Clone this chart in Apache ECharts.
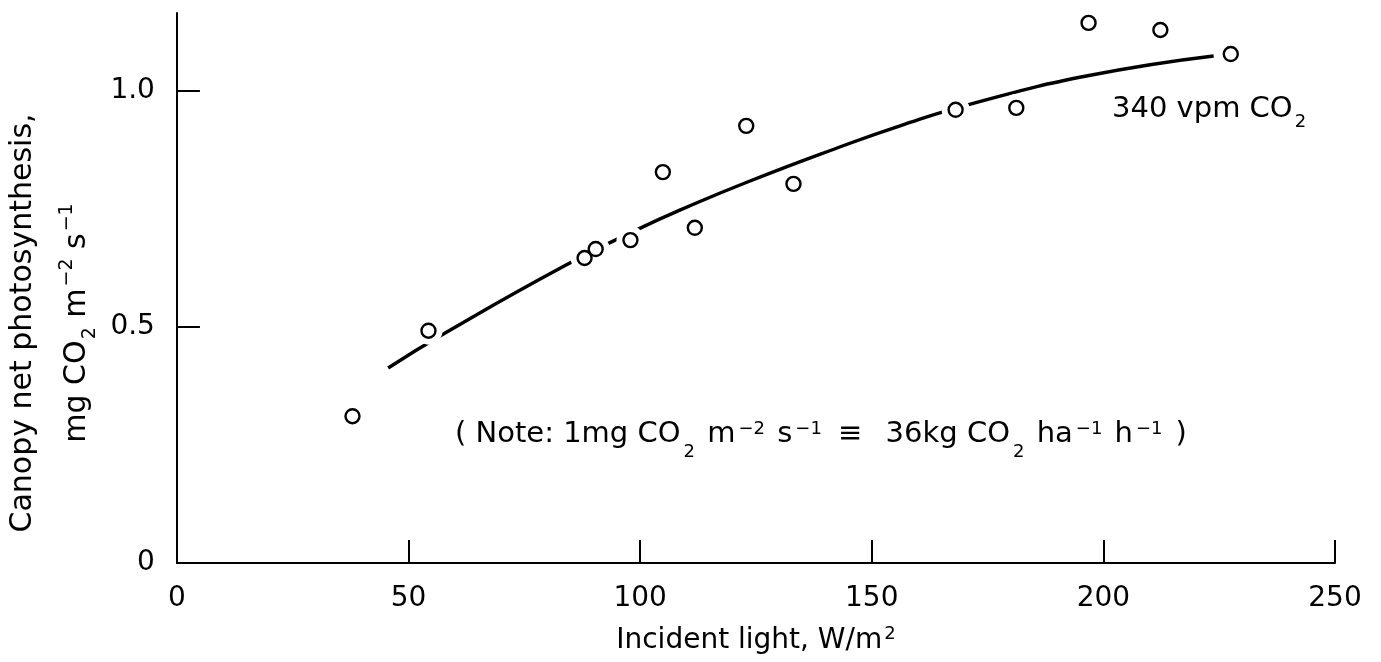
<!DOCTYPE html>
<html>
<head>
<meta charset="utf-8">
<script src="https://cdn.jsdelivr.net/npm/echarts@6/dist/echarts.min.js"></script>
<style>
  html, body { margin: 0; background: #fff; }
  #chart { width: 1381px; height: 662px; }
</style>
</head>
<body>
<div id="chart"></div>
<script>
// measured points (incident light W/m2, net photosynthesis mg CO2 m-2 s-1)
const lightObs = [37.9, 54.3, 88.0, 90.4, 97.9, 104.9, 111.8, 122.9, 133.1, 168.1, 181.2, 196.8, 212.3, 227.5]
const photoObs = [0.311, 0.492, 0.646, 0.665, 0.684, 0.828, 0.710, 0.926, 0.803, 0.960, 0.964, 1.144, 1.129, 1.078]

// fitted curve
const lightFit = [45.6, 57.9, 84.0, 100.6, 109.2, 122.9, 142.5, 156.1, 171.3, 196.6, 223.8]
const photoFit = [0.413, 0.487, 0.631, 0.712, 0.750, 0.806, 0.879, 0.926, 0.972, 1.032, 1.074]

const xTicks = [50, 100, 150, 200, 250]
const yTicks = [0.5, 1.0]
const yLabels = [0, 0.5, 1.0]

const INK = '#000'
const FONT = 'DejaVu Sans'

const obs = lightObs.map((x, i) => [x, photoObs[i]])
const fit = lightFit.map((x, i) => [x, photoFit[i]])

const txt = (size, extra) => Object.assign({ fontSize: size, fontFamily: FONT, color: INK }, extra || {})

const chart = echarts.init(document.getElementById('chart'), null, { renderer: 'canvas' })

const option = {
  animation: false,
  backgroundColor: '#fff',
  grid: { left: 175, right: 46, top: 13, bottom: 99 },
  xAxis: {
    type: 'value',
    min: 0,
    max: 250,
    interval: 50,
    name: '{t|Incident light, W/m}{sup|2}',
    nameLocation: 'middle',
    nameGap: 62,
    nameTextStyle: {
      rich: {
        t: txt(28, { lineHeight: 30 }),
        sup: txt(18, { padding: [0, 0, 14, 2] })
      }
    },
    axisLine: { lineStyle: { color: INK, width: 2 } },
    axisTick: { inside: true, length: 23, customValues: xTicks, lineStyle: { color: INK, width: 2 } },
    axisLabel: { margin: 22, fontSize: 28, fontFamily: FONT, color: INK },
    splitLine: { show: false }
  },
  yAxis: {
    type: 'value',
    min: 0,
    max: 1.165,
    interval: 0.5,
    name: '{t|Canopy net photosynthesis,}\n{t|mg CO}{sub|2}{t| m}{sup|−2}{t| s}{sup|−1}',
    nameLocation: 'middle',
    nameRotate: 90,
    nameGap: 68,
    nameTextStyle: {
      padding: [0, 70, 0, 0],
      rich: {
        t: txt(30, { lineHeight: 54 }),
        sub: txt(19, { padding: [26, 0, 0, 1] }),
        sup: txt(19, { padding: [0, 0, 20, 2] })
      }
    },
    axisLine: { show: true, lineStyle: { color: INK, width: 2 } },
    axisTick: { inside: true, length: 23, customValues: yTicks, lineStyle: { color: INK, width: 2 } },
    axisLabel: {
      margin: 22,
      fontSize: 28,
      fontFamily: FONT,
      color: INK,
      customValues: yLabels,
      formatter: v => (v === 0 ? '0' : v.toFixed(1))
    },
    splitLine: { show: false }
  },
  series: [
    {
      name: 'fit',
      type: 'line',
      data: fit,
      smooth: true,
      showSymbol: false,
      z: 2,
      lineStyle: { color: INK, width: 3.4 }
    },
    {
      // white halo so the curve breaks around the circles
      name: 'gap',
      type: 'scatter',
      data: obs,
      symbolSize: 28,
      silent: true,
      z: 3,
      itemStyle: { color: '#fff', opacity: 1 }
    },
    {
      name: 'observed',
      type: 'scatter',
      data: obs,
      symbolSize: 14,
      z: 4,
      itemStyle: { color: '#fff', borderColor: INK, borderWidth: 2.4, opacity: 1 }
    }
  ],
  graphic: [
    {
      type: 'text',
      x: 1112,
      y: 109,
      style: {
        text: '{n|340 vpm CO}{sub|2}',
        verticalAlign: 'middle',
        rich: {
          n: txt(29),
          sub: txt(18, { padding: [26, 0, 0, 2] })
        }
      }
    },
    {
      type: 'text',
      x: 455,
      y: 434,
      style: {
        text: '{n|( Note: 1mg CO}{sub|2}{n| m}{sup|−2}{n| s}{sup|−1}{n| }{eq|≡}{n| 36kg CO}{sub|2}{n| ha}{sup|−1}{n| h}{sup|−1}{cl|)}',
        verticalAlign: 'middle',
        rich: {
          n: txt(29),
          eq: txt(29, { padding: [0, 14, 0, 4] }),
          cl: txt(29, { padding: [0, 0, 0, 10] }),
          sub: txt(18, { padding: [36, 3, 0, 3] }),
          sup: txt(18, { padding: [0, 3, 10, 3] })
        }
      }
    }
  ]
}

chart.setOption(option)
</script>
</body>
</html>
